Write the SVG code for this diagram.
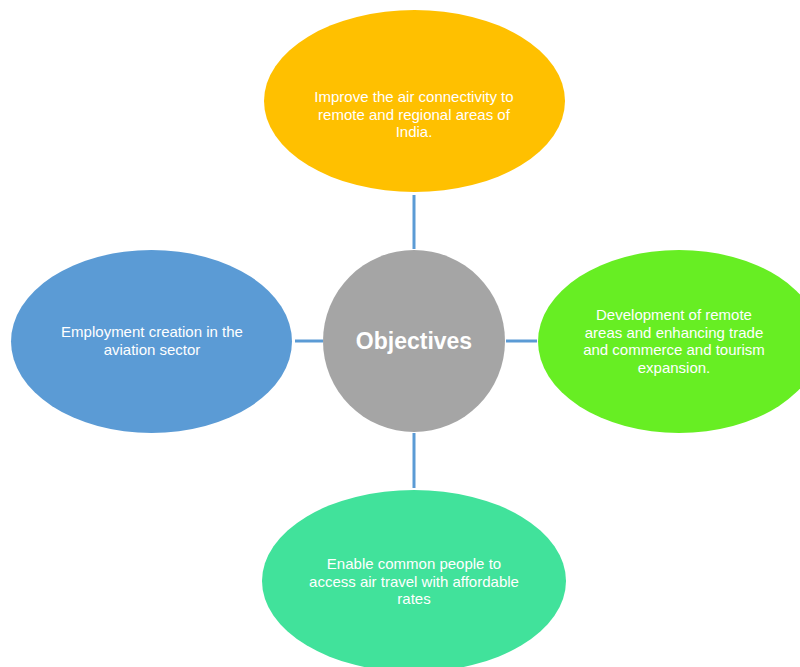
<svg xmlns="http://www.w3.org/2000/svg" width="800" height="667" viewBox="0 0 800 667">
  <style>
    .label { font-family: "Liberation Sans", Arial, sans-serif; font-size: 15px; fill: #ffffff; text-anchor: middle; }
    .hub { font-family: "Liberation Sans", Arial, sans-serif; font-size: 23px; font-weight: bold; fill: #ffffff; text-anchor: middle; }
    .link { stroke: #5B9BD5; stroke-width: 3; fill: none; }
  </style>
  <rect width="800" height="667" fill="#ffffff"/>

  <g id="connectors">
    <line class="link" x1="414" y1="195" x2="414" y2="249"/>
    <line class="link" x1="295" y1="341" x2="323" y2="341"/>
    <line class="link" x1="506" y1="341" x2="537" y2="341"/>
    <line class="link" x1="414" y1="433" x2="414" y2="488"/>
  </g>

  <g id="objectives">
    <circle cx="414" cy="341" r="91" fill="#A5A5A5"/>
    <text class="hub" x="414" y="349">Objectives</text>
  </g>

  <g id="air-connectivity">
    <ellipse cx="414.5" cy="101" rx="150.5" ry="91" fill="#FFC000"/>
    <text class="label" x="414" y="102">Improve the air connectivity to</text>
    <text class="label" x="414" y="119.5">remote and regional areas of</text>
    <text class="label" x="414" y="137">India.</text>
  </g>

  <g id="employment">
    <ellipse cx="151.5" cy="341.5" rx="140.5" ry="91.5" fill="#5B9BD5"/>
    <text class="label" x="152" y="337">Employment creation in the</text>
    <text class="label" x="152" y="355">aviation sector</text>
  </g>

  <g id="development">
    <ellipse cx="679" cy="341.5" rx="141" ry="91.5" fill="#67EE23"/>
    <text class="label" x="674" y="320">Development of remote</text>
    <text class="label" x="674" y="337.5">areas and enhancing trade</text>
    <text class="label" x="674" y="355">and commerce and tourism</text>
    <text class="label" x="674" y="372.5">expansion.</text>
  </g>

  <g id="affordable-travel">
    <ellipse cx="414" cy="581" rx="152" ry="91" fill="#41E29B"/>
    <text class="label" x="414" y="569">Enable common people to</text>
    <text class="label" x="414" y="586.5">access air travel with affordable</text>
    <text class="label" x="414" y="604">rates</text>
  </g>
</svg>
